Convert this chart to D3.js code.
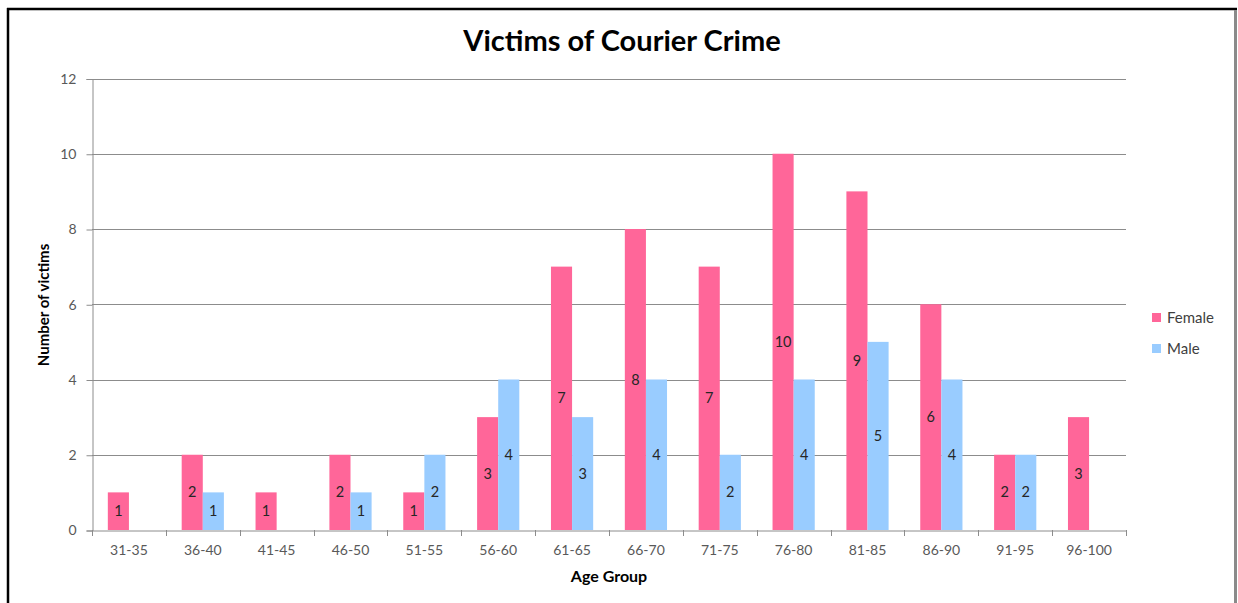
<!DOCTYPE html>
<html>
<head>
<meta charset="utf-8">
<script src="https://cdn.jsdelivr.net/npm/d3@7"></script>
<style>
  html, body { margin: 0; padding: 0; background: #fff; }
  svg { display: block; }
  text { font-family: Lato, "Open Sans", sans-serif; }
</style>
</head>
<body>
<svg id="chart" width="1238" height="603"></svg>
<script>
// Victims by age group, split by sex
const categories = ["31-35", "36-40", "41-45", "46-50", "51-55", "56-60", "61-65",
                    "66-70", "71-75", "76-80", "81-85", "86-90", "91-95", "96-100"];
const female = [1, 2, 1, 2, 1, 3, 7, 8, 7, 10, 9, 6, 2, 3];
const male   = [null, 1, null, 1, 2, 4, 3, 4, 2, 4, 5, 4, 2, null];
const seriesNames = ["Female", "Male"];
const seriesColors = ["#ff6699", "#99ccff"];
const yTicks = [0, 2, 4, 6, 8, 10, 12];

const svg = d3.select("#chart");
const W = 1238, H = 603;

// chart frame
svg.append("rect").attr("width", W).attr("height", H).attr("fill", "#fff");
svg.append("line").attr("x1", 8).attr("x2", 8).attr("y1", 8).attr("y2", H)
  .attr("stroke", "#000").attr("stroke-width", 2.5);
svg.append("line").attr("x1", 7).attr("x2", 1237).attr("y1", 9).attr("y2", 9)
  .attr("stroke", "#000").attr("stroke-width", 2.5);
svg.append("line").attr("x1", 1235.5).attr("x2", 1235.5).attr("y1", 10).attr("y2", H)
  .attr("stroke", "#8a8a8a").attr("stroke-width", 3);

const plot = { left: 92, right: 1126, top: 78.5, bottom: 530 };

const x = d3.scaleBand().domain(categories).range([plot.left, plot.right]);
const y = d3.scaleLinear().domain([0, 12]).range([plot.bottom, plot.top]);

// bars: two per group, gap of 1.5 bar widths between groups
const barW = x.bandwidth() / 3.5;
const inner = d3.scaleBand().domain(seriesNames)
  .range([0, barW * 2]);
const groupOffset = (x.bandwidth() - barW * 2) / 2;

// gridlines
svg.append("g").selectAll("line").data(yTicks.filter(t => t > 0)).join("line")
  .attr("x1", plot.left).attr("x2", plot.right)
  .attr("y1", d => Math.round(y(d)) + 0.5).attr("y2", d => Math.round(y(d)) + 0.5)
  .attr("stroke", "#8c8c8c").attr("stroke-width", 1);

// y axis
const yAxis = d3.axisLeft(y).tickValues(yTicks).tickSize(6).tickPadding(10);
const gy = svg.append("g").attr("transform", `translate(${plot.left + 0.5},0.5)`).call(yAxis);
gy.select(".domain").attr("stroke", "#8c8c8c");
gy.selectAll(".tick line").attr("stroke", "#8c8c8c");
gy.selectAll(".tick text").attr("fill", "#595959").attr("font-size", 14)
  .attr("font-family", "Lato, sans-serif");

// x axis with ticks at category boundaries
const xAxis = d3.axisBottom(x).tickSize(0).tickPadding(15);
const gx = svg.append("g").attr("transform", `translate(0,${plot.bottom + 0.5})`).call(xAxis);
gx.select(".domain").attr("stroke", "#8c8c8c");
gx.selectAll(".tick text").attr("fill", "#595959").attr("font-size", 14)
  .attr("font-family", "Lato, sans-serif");
const bounds = categories.map(c => x(c)).concat([x(categories[categories.length - 1]) + x.bandwidth()]);
svg.append("g").selectAll("line").data(bounds).join("line")
  .attr("x1", d => Math.round(d) + 0.5).attr("x2", d => Math.round(d) + 0.5)
  .attr("y1", plot.bottom).attr("y2", plot.bottom + 6)
  .attr("stroke", "#8c8c8c");

// bars and centred value labels
const rows = categories.map((c, i) => ({ cat: c, values: [female[i], male[i]] }));
const groups = svg.append("g").selectAll("g").data(rows).join("g")
  .attr("transform", d => `translate(${x(d.cat) + groupOffset},0)`);

groups.selectAll("rect")
  .data(d => d.values.map((v, k) => ({ v, k })).filter(e => e.v != null))
  .join("rect")
  .attr("x", e => inner(seriesNames[e.k]))
  .attr("width", barW)
  .attr("y", e => y(e.v))
  .attr("height", e => y(0) - y(e.v))
  .attr("fill", e => seriesColors[e.k]);

groups.selectAll("text")
  .data(d => d.values.map((v, k) => ({ v, k })).filter(e => e.v != null))
  .join("text")
  .attr("x", e => inner(seriesNames[e.k]) + barW / 2)
  .attr("y", e => (y(e.v) + y(0)) / 2)
  .attr("dy", "0.35em")
  .attr("text-anchor", "middle")
  .attr("font-size", 14.5)
  .attr("fill", "#262626")
  .text(e => e.v);

// title
svg.append("text").attr("x", 622).attr("y", 51).attr("text-anchor", "middle")
  .attr("font-size", 29).attr("font-weight", "bold").attr("fill", "#000")
  .text("Victims of Courier Crime");

// axis titles
svg.append("text").attr("transform", "translate(49,305) rotate(-90)")
  .attr("text-anchor", "middle").attr("font-size", 15).attr("font-weight", "bold")
  .attr("fill", "#000").text("Number of victims");
svg.append("text").attr("x", 609).attr("y", 582).attr("text-anchor", "middle")
  .attr("font-size", 16).attr("font-weight", "bold").attr("fill", "#000")
  .text("Age Group");

// legend
const legend = svg.append("g").selectAll("g").data(seriesNames).join("g")
  .attr("transform", (d, i) => `translate(1152,${318 + i * 31})`);
legend.append("rect").attr("x", 0).attr("y", -5).attr("width", 9).attr("height", 9)
  .attr("fill", (d, i) => seriesColors[i]);
legend.append("text").attr("x", 15).attr("y", 0).attr("dy", "0.35em")
  .attr("font-size", 15).attr("fill", "#404040").text(d => d);
</script>
</body>
</html>
